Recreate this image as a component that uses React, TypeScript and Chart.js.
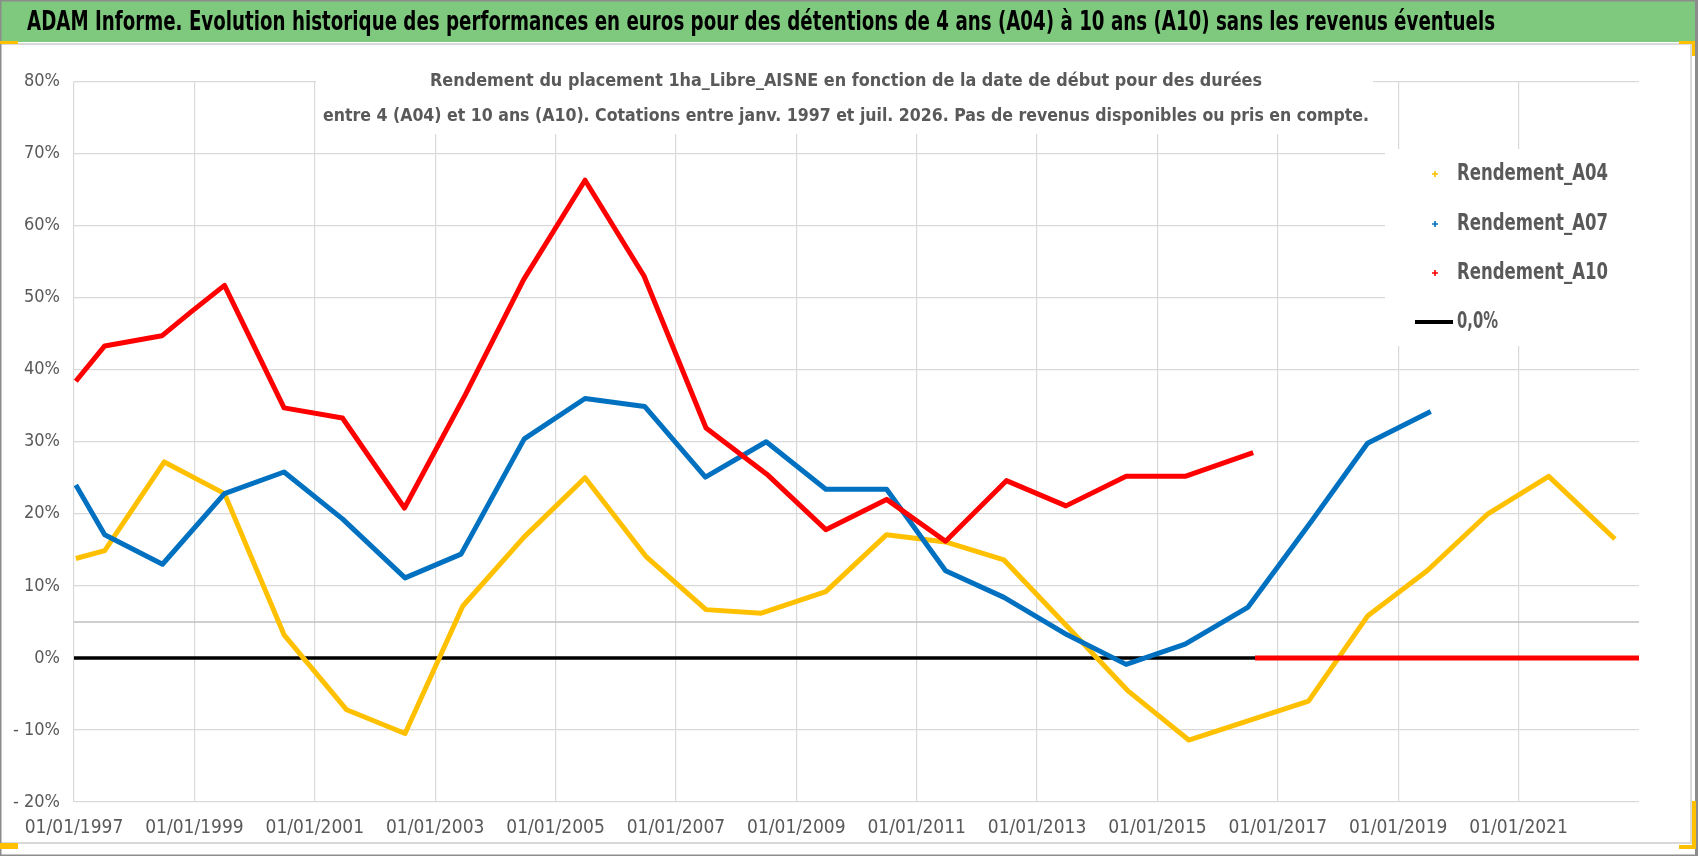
import { useEffect, useRef } from 'react';
import { Chart, registerables } from 'chart.js';
import type { Plugin } from 'chart.js';

Chart.register(...registerables);

const FONT = "'Liberation Sans Narrow', 'DejaVu Sans Condensed', 'Open Sans', sans-serif";

const bannerTitle =
  'ADAM Informe. Evolution historique des performances en euros pour des détentions de 4 ans (A04) à 10 ans (A10) sans les revenus éventuels';
const chartTitleLines = [
  'Rendement du placement 1ha_Libre_AISNE en fonction de la date de début pour des durées',
  'entre 4 (A04) et 10 ans (A10). Cotations entre janv. 1997 et juil. 2026. Pas de revenus disponibles ou pris en compte.',
];

const seriesLabels = ['Rendement_A04', 'Rendement_A07', 'Rendement_A10', '0,0%'];
const seriesColors = ['#FFC000', '#0070C0', '#FF0000', '#000000'];

// x values are decimal years (start date of the holding), y values in %
const a04Dates = [
  1997.03, 1997.51, 1998.5, 1999.5, 2000.49, 2001.53, 2002.5, 2003.46, 2004.48, 2005.49, 2006.5,
  2007.5, 2008.42, 2009.49, 2010.5, 2011.48, 2012.45, 2013.45, 2014.5, 2015.52, 2017.51, 2018.49,
  2019.48, 2020.49, 2021.5, 2022.6,
];
const a04Values = [
  13.8, 14.9, 27.2, 22.8, 3.2, -7.2, -10.5, 7.2, 16.8, 25.0, 14.1, 6.7, 6.2, 9.2, 17.1, 16.1, 13.6,
  4.8, -4.5, -11.4, -6.0, 5.8, 12.1, 20.0, 25.2, 16.5,
];

const a07Dates = [
  1997.03, 1997.51, 1998.47, 1999.5, 2000.49, 2001.46, 2002.5, 2003.43, 2004.48, 2005.49, 2006.48,
  2007.49, 2008.5, 2009.49, 2010.5, 2011.48, 2012.45, 2013.5, 2014.48, 2015.46, 2016.5, 2017.57,
  2018.49, 2019.54,
];
const a07Values = [
  24.0, 17.1, 13.0, 22.8, 25.8, 19.3, 11.1, 14.4, 30.4, 36.0, 34.9, 25.1, 30.0, 23.4, 23.4, 12.1, 8.4,
  3.2, -0.9, 1.9, 7.0, 19.1, 29.8, 34.2,
];

// after the last computable date the A10 series is filled with zeros
const a10Dates = [
  1997.03, 1997.51, 1998.46, 1998.94, 1999.5, 2000.49, 2001.46, 2002.49, 2003.5, 2004.47, 2005.49,
  2006.47, 2007.5, 2008.51, 2009.49, 2010.5, 2011.48, 2012.49, 2013.48, 2014.48, 2015.46, 2016.59,
  2016.6, 2016.62, 2023,
];
const a10Values = [
  38.4, 43.3, 44.7, 48.0, 51.7, 34.7, 33.3, 20.8, 36.5, 52.5, 66.3, 53.0, 31.9, 25.5, 17.8, 22.0, 16.2,
  24.6, 21.1, 25.2, 25.2, 28.5, null, 0, 0,
];

const zeroDates = [1997, 2023];
const zeroValues = [0, 0];

const thresholdDates = [1997, 2023];
const thresholdValues = [5, 5];

const xTickYears = [1997, 1999, 2001, 2003, 2005, 2007, 2009, 2011, 2013, 2015, 2017, 2019, 2021];

function toPoints(xs: number[], ys: (number | null)[]) {
  return xs.map((x, i) => ({ x, y: ys[i] }));
}

function fitText(
  ctx: CanvasRenderingContext2D,
  text: string,
  x: number,
  y: number,
  width: number,
  font: string,
  color: string,
  centered: boolean,
) {
  ctx.save();
  ctx.font = font;
  ctx.fillStyle = color;
  ctx.textBaseline = 'middle';
  ctx.textAlign = 'left';
  const w = ctx.measureText(text).width;
  const left = centered ? x - width / 2 : x;
  ctx.translate(left, y);
  ctx.scale(width / w, 1);
  ctx.fillText(text, 0, 0);
  ctx.restore();
}

const framePlugin: Plugin<'line'> = {
  id: 'frame',
  beforeDraw(chart) {
    const { ctx, width, height } = chart;
    ctx.save();
    ctx.fillStyle = '#FFFFFF';
    ctx.fillRect(0, 0, width, height);
    // green banner
    ctx.fillStyle = '#7FC97F';
    ctx.fillRect(1, 1, width - 4, 41);
    fitText(ctx, bannerTitle, 27, 22.5, 1468, `bold 27px ${FONT}`, '#000000', false);
    // chart area border
    ctx.strokeStyle = '#D9D9D9';
    ctx.lineWidth = 2;
    ctx.beginPath();
    ctx.moveTo(0, 44);
    ctx.lineTo(1691, 44);
    ctx.lineTo(1691, 843);
    ctx.lineTo(0, 843);
    ctx.stroke();
    // outer border
    ctx.strokeStyle = '#8C8C8C';
    ctx.lineWidth = 1.5;
    ctx.strokeRect(0.75, 0.75, width - 3, height - 1.5);
    ctx.fillStyle = '#8C8C8C';
    ctx.fillRect(width - 3, 0, 3, height);
    ctx.restore();
  },
};

const overlayPlugin: Plugin<'line'> = {
  id: 'overlay',
  beforeDatasetsDraw(chart) {
    const { ctx } = chart;
    ctx.save();
    // title box
    ctx.fillStyle = '#FFFFFF';
    ctx.fillRect(316, 60, 1057, 74);
    fitText(ctx, chartTitleLines[0], 846, 81, 832, `bold 18px ${FONT}`, '#595959', true);
    fitText(ctx, chartTitleLines[1], 846, 116, 1046, `bold 18px ${FONT}`, '#595959', true);

    // legend box
    ctx.fillStyle = '#FFFFFF';
    ctx.fillRect(1385, 149, 255, 197);
    const rows = [174, 224, 273, 322];
    seriesLabels.forEach((label, i) => {
      const y = rows[i];
      const color = seriesColors[i];
      if (i < 3) {
        ctx.strokeStyle = color;
        ctx.lineWidth = 1.6;
        ctx.beginPath();
        ctx.moveTo(1432, y);
        ctx.lineTo(1438, y);
        ctx.moveTo(1435, y - 3);
        ctx.lineTo(1435, y + 3);
        ctx.stroke();
        fitText(ctx, label, 1457, y, 151, `bold 23px ${FONT}`, '#595959', false);
      } else {
        ctx.strokeStyle = color;
        ctx.lineWidth = 4;
        ctx.beginPath();
        ctx.moveTo(1415, y);
        ctx.lineTo(1453, y);
        ctx.stroke();
        fitText(ctx, label, 1457, y, 41, `bold 23px ${FONT}`, '#595959', false);
      }
    });
    ctx.restore();
  },
  afterDraw(chart) {
    const { ctx } = chart;
    ctx.save();
    ctx.fillStyle = '#FFC000';
    ctx.fillRect(0, 41, 18, 3);
    ctx.fillRect(1679, 41, 16, 3);
    ctx.fillRect(1692, 41, 3, 15);
    ctx.fillRect(1692, 801, 4, 48);
    ctx.fillRect(1679, 845, 17, 4);
    ctx.fillRect(0, 843, 18, 6);
    ctx.restore();
  },
};

export default function App() {
  const chartRef = useRef<HTMLCanvasElement>(null);
  const chartInstance = useRef<Chart | null>(null);

  useEffect(() => {
    if (!chartRef.current) return;
    if (chartInstance.current) {
      chartInstance.current.destroy();
    }
    const ctx = chartRef.current.getContext('2d');
    if (!ctx) return;

    const seriesPoints = [
      toPoints(a04Dates, a04Values),
      toPoints(a07Dates, a07Values),
      toPoints(a10Dates, a10Values),
      toPoints(zeroDates, zeroValues),
    ];
    const drawOrder = [3, 2, 1, 4];
    const widths = [5, 5, 5, 3.5];

    const datasets: any[] = seriesLabels.map((label, i) => ({
      label,
      data: seriesPoints[i],
      borderColor: seriesColors[i],
      backgroundColor: seriesColors[i],
      borderWidth: widths[i],
      pointRadius: 0,
      tension: 0,
      spanGaps: false,
      fill: false,
      order: drawOrder[i],
      borderJoinStyle: 'round',
    }));
    datasets.push({
      label: 'seuil 5%',
      data: toPoints(thresholdDates, thresholdValues),
      borderColor: '#BFBFBF',
      borderWidth: 1.5,
      pointRadius: 0,
      fill: false,
      order: 5,
    });

    const gridColor = '#D9D9D9';

    chartInstance.current = new Chart(ctx, {
      type: 'line',
      data: { datasets },
      plugins: [framePlugin, overlayPlugin],
      options: {
        animation: false,
        responsive: false,
        layout: { padding: { top: 81.5, right: 59, bottom: 0, left: 0 } },
        plugins: {
          legend: { display: false },
          tooltip: { enabled: false },
          title: { display: false },
        },
        scales: {
          x: {
            type: 'linear',
            min: 1997,
            max: 2023,
            afterFit: (scale: any) => {
              scale.height = 54;
            },
            ticks: {
              stepSize: 2,
              autoSkip: false,
              maxRotation: 0,
              padding: 15,
              color: '#595959',
              font: { family: FONT, size: 19 },
              callback: (value: any) =>
                xTickYears.includes(Number(value)) ? `01/01/${value}` : '',
            },
            grid: {
              color: (c: any) => (xTickYears.includes(c.tick?.value) ? gridColor : 'rgba(0,0,0,0)'),
              lineWidth: 1.2,
              drawTicks: false,
            },
            border: { display: false },
          },
          y: {
            min: -20,
            max: 80,
            afterFit: (scale: any) => {
              scale.width = 74;
            },
            ticks: {
              stepSize: 10,
              padding: 14,
              color: '#595959',
              font: { family: FONT, size: 18 },
              callback: (value: any) => (Number(value) < 0 ? `- ${-Number(value)}%` : `${value}%`),
            },
            grid: { color: gridColor, lineWidth: 1.2, drawTicks: false },
            border: { display: false },
          },
        },
      },
    });

    return () => {
      if (chartInstance.current) {
        chartInstance.current.destroy();
        chartInstance.current = null;
      }
    };
  }, []);

  return (
    <div style={{ position: 'absolute', left: 0, top: 0, width: 1698, height: 856, background: '#fff' }}>
      <canvas ref={chartRef} width={1698} height={856} />
    </div>
  );
}
